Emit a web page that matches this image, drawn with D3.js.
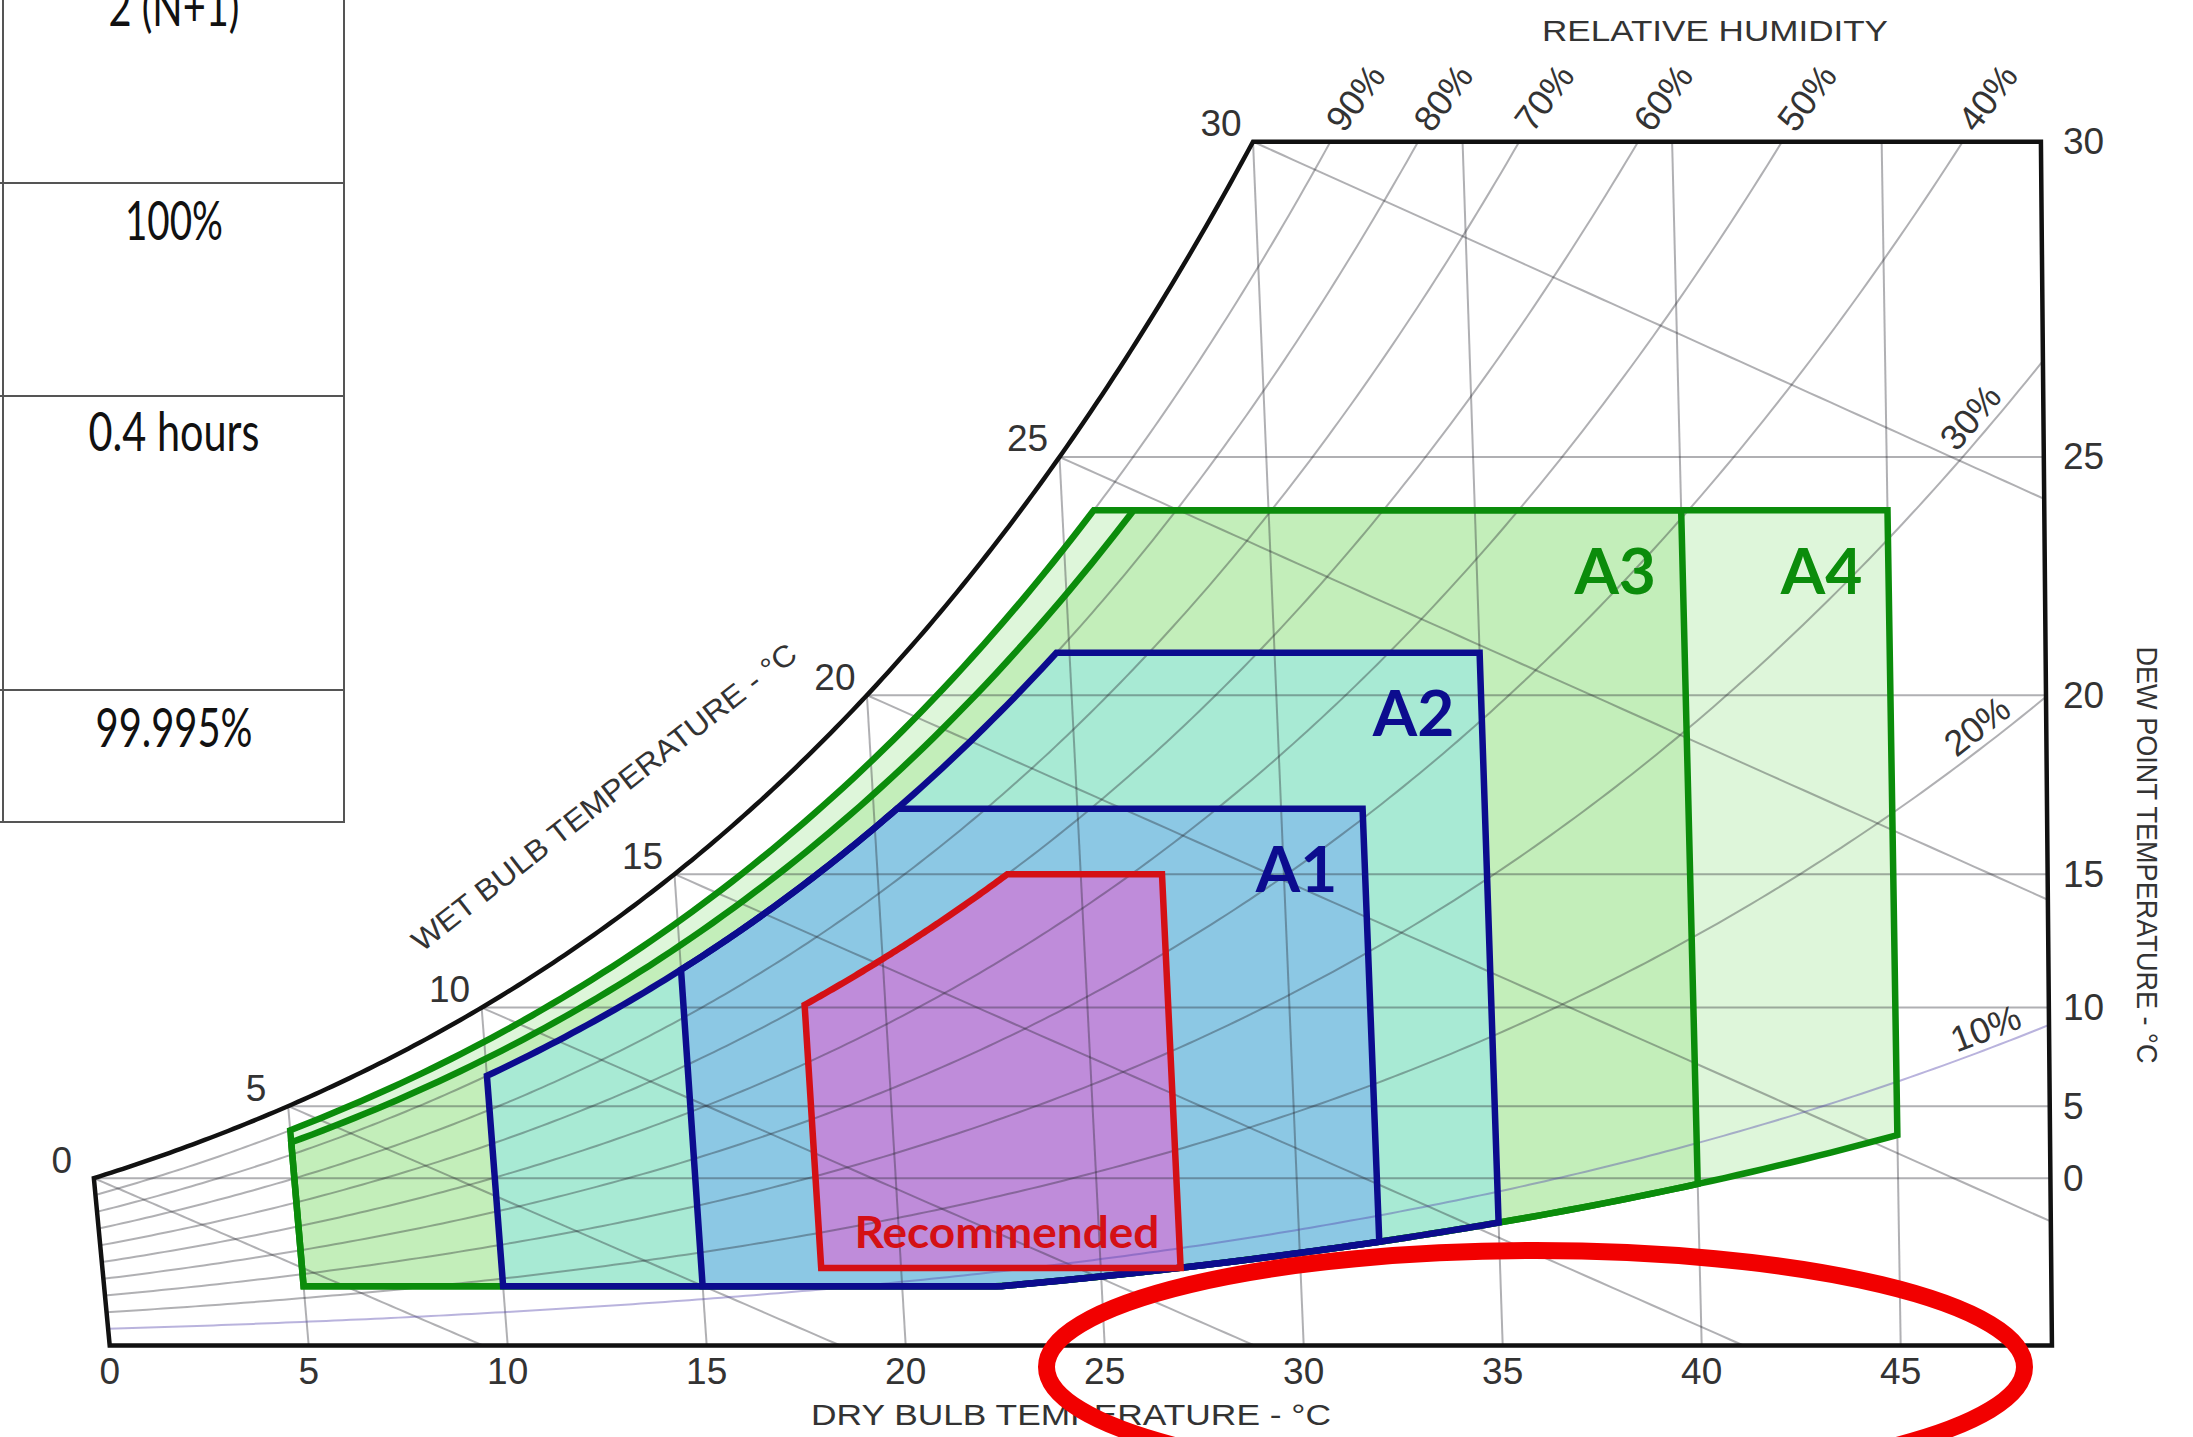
<!DOCTYPE html>
<html>
<head>
<meta charset="utf-8">
<script src="https://cdn.jsdelivr.net/npm/d3@7"></script>
<style>
  html, body { margin: 0; padding: 0; background: #ffffff; }
  svg { display: block; }
</style>
</head>
<body>
<svg id="chart" width="2193" height="1437"></svg>
<script>
// ---- axis ticks and grid families ----
const dryBulbTicks = [0, 5, 10, 15, 20, 25, 30, 35, 40, 45];
const dewPointTicks = [0, 5, 10, 15, 20, 25, 30];
const wetBulbTicks = [0, 5, 10, 15, 20, 25, 30];
const rhCurves = [10, 20, 30, 40, 50, 60, 70, 80, 90];
const rhTopLabels = [40, 50, 60, 70, 80, 90];
const rhSideLabels = [10, 20, 30];

// ---- chart frame limits (dry bulb / dew point, °C) ----
const dbFrameMax = 48.8;
const dpFrameTop = 30;

// ---- environmental classes ----
const classNames = ["A4", "A3", "A2", "A1", "Recommended"];
const classDbMin = [5, 5, 10, 15, 18];
const classDbMax = [45, 40, 35, 32, 27];
const classRhMax = [90, 85, 80, 80, 60];
const classDpMax = [24, 24, 21, 17, 15];
const classDpMin = [-12, -12, -12, -12, -9];
const classRhMin = [8, 8, 8, 8, 0];
const classFill = ["#def6da", "#c3eeba", "#a8ead4", "#8cc8e4", "#bf8cda"];
const classStroke = ["#0b8c0b", "#0b8c0b", "#0c0c8e", "#0c0c8e", "#d41015"];

// ---- side table column ----
const tableRows = ["2 (N+1)", "100%", "0.4 hours", "99.995%"];

// ---- psychrometrics (sea level) ----
const P_ATM = 101.325;
const psat = t => t >= 0
  ? 0.61094 * Math.exp(17.625 * t / (t + 243.04))
  : 0.61115 * Math.exp(22.452 * t / (272.55 + t));
const wFromPv = pv => 622 * pv / (P_ATM - pv);          // g/kg
const wSat = t => wFromPv(psat(t));
const wRh = (t, rh) => wFromPv(rh / 100 * psat(t));
const dbAtPv = pv => { const l = Math.log(pv / 0.61094); return 243.04 * l / (17.625 - l); };
const wWet = (t, twb) => {
  const ws = wSat(twb) / 1000;
  return 1000 * ((2501 - 2.326 * twb) * ws - 1.006 * (t - twb)) / (2501 + 1.86 * t - 4.186 * twb);
};

// ---- scales: dry bulb along the base, humidity ratio upward, lines lean with temperature ----
const wTop = wSat(dpFrameTop);
const xBase = d3.scaleLinear().domain([0, 45]).range([109.7, 1900.7]);
const yScale = d3.scaleLinear().domain([0, wTop]).range([1345.5, 141.7]);
const lean = d3.scaleLinear().domain([0, 45]).range([-4.198, -0.7015]);
const X = (t, w) => xBase(t) + w * lean(t);
const Y = w => yScale(w);
const line = d3.line().x(d => X(d[0], d[1])).y(d => Y(d[1]));
const steps = (a, b, n) => d3.range(n + 1).map(i => a + (b - a) * i / n);

const svg = d3.select("#chart");
const FONT = "'Liberation Sans', Arial, Helvetica, sans-serif";

// ---- class envelopes in (dry bulb, humidity ratio) ----
function envelope(i) {
  const tMin = classDbMin[i], tMax = classDbMax[i];
  const pvTop = psat(classDpMax[i]);
  const wCap = wFromPv(pvTop);
  const wFloor = wFromPv(psat(classDpMin[i]));
  const lower = t => Math.max(wFloor, classRhMin[i] > 0 ? wRh(t, classRhMin[i]) : 0);
  const tKnee = dbAtPv(pvTop / (classRhMax[i] / 100));
  const pts = [[tMin, lower(tMin)]];
  steps(tMin, tKnee, 80).forEach(t => pts.push([t, Math.min(wCap, wRh(t, classRhMax[i]))]));
  pts.push([tMax, wCap]);
  steps(tMax, tMin, 120).forEach(t => pts.push([t, lower(t)]));
  return pts;
}
const envelopes = classNames.map((_, i) => envelope(i));

// fills
const gFill = svg.append("g");
envelopes.forEach((pts, i) => {
  gFill.append("path").attr("d", line(pts) + "Z").attr("fill", classFill[i]).attr("stroke", "none");
});

// ---- grid ----
const gGrid = svg.append("g").attr("fill", "none")
  .attr("stroke", "rgba(35,35,45,0.36)").attr("stroke-width", 2);

// dry bulb lines
dryBulbTicks.filter(t => t > 0).forEach(t => {
  gGrid.append("path").attr("d", line([[t, 0], [t, Math.min(wSat(t), wTop)]]));
});
// dew point lines
dewPointTicks.filter(d => d < dpFrameTop).forEach(dp => {
  const w = wSat(dp);
  gGrid.append("path").attr("d", line([[dp, w], [dbFrameMax, w]]));
});
// wet bulb lines
wetBulbTicks.forEach(twb => {
  const ws = wSat(twb) / 1000;
  const tRoot = twb + (2501 - 2.326 * twb) * ws / 1.006;
  const tEnd = Math.min(tRoot, dbFrameMax);
  const pts = steps(twb, tEnd, 80).map(t => [t, Math.max(0, wWet(t, twb))]);
  gGrid.append("path").attr("d", line(pts));
});
// relative humidity curves
const rhEnd = rh => Math.min(dbFrameMax, dbAtPv(psat(dpFrameTop) / (rh / 100)));
rhCurves.forEach(rh => {
  const pts = steps(0, rhEnd(rh), 240).map(t => [t, Math.min(wTop, wRh(t, rh))]);
  const p = gGrid.append("path").attr("d", line(pts));
  if (rh === 10) p.attr("stroke", "rgba(80,64,170,0.40)");
});

// ---- frame: saturation curve, top, right, base, left ----
const framePts = steps(0, dpFrameTop, 200).map(t => [t, wSat(t)])
  .concat([[dbFrameMax, wTop], [dbFrameMax, 0], [0, 0]]);
svg.append("path").attr("d", line(framePts) + "Z")
  .attr("fill", "none").attr("stroke", "#111").attr("stroke-width", 4.5)
  .attr("stroke-linejoin", "miter");

// ---- class outlines ----
const gEnv = svg.append("g").attr("fill", "none").attr("stroke-width", 6.5).attr("stroke-linejoin", "miter");
envelopes.forEach((pts, i) => {
  gEnv.append("path").attr("d", line(pts) + "Z").attr("stroke", classStroke[i]);
});

// ---- class labels ----
const gLab = svg.append("g").attr("font-family", "Lato, 'Open Sans', sans-serif").attr("font-weight", 700);
classNames.forEach((name, i) => {
  const wCap = wSat(classDpMax[i]);
  if (name === "Recommended") {
    const wFloor = wFromPv(psat(classDpMin[i]));
    const cx = (X(classDbMin[i], wFloor) + X(classDbMax[i], wFloor)) / 2;
    gLab.append("text").attr("x", cx + 6).attr("y", Y(wFloor) - 37)
      .attr("text-anchor", "middle").attr("dominant-baseline", "central")
      .attr("font-size", 44).attr("textLength", 305).attr("lengthAdjust", "spacingAndGlyphs")
      .attr("fill", classStroke[i]).text(name);
  } else {
    gLab.append("text").attr("x", X(classDbMax[i], wCap) - 66).attr("y", Y(wCap) + 59)
      .attr("text-anchor", "middle").attr("dominant-baseline", "central")
      .attr("font-size", 64).attr("fill", classStroke[i]).text(name);
  }
});

// ---- axis text ----
const gTxt = svg.append("g").attr("font-family", FONT).attr("fill", "#333");

// dry bulb ticks
dryBulbTicks.forEach(t => {
  gTxt.append("text").attr("x", X(t, 0)).attr("y", 1371)
    .attr("text-anchor", "middle").attr("dominant-baseline", "central")
    .attr("font-size", 37).text(t);
});
// dew point ticks (right)
dewPointTicks.forEach(dp => {
  gTxt.append("text").attr("x", 2063).attr("y", Y(wSat(dp)))
    .attr("dominant-baseline", "central").attr("font-size", 37).text(dp);
});
// wet bulb ticks along the saturation curve
wetBulbTicks.forEach(twb => {
  const w = wSat(twb);
  gTxt.append("text").attr("x", X(twb, w) - 32).attr("y", Y(w) - 18)
    .attr("text-anchor", "middle").attr("dominant-baseline", "central")
    .attr("font-size", 37).text(twb);
});
// relative humidity labels along the top
rhTopLabels.forEach(rh => {
  const cx = X(rhEnd(rh), wTop) + 25, cy = Y(wTop) - 44;
  gTxt.append("text").attr("transform", `translate(${cx},${cy}) rotate(-53)`)
    .attr("text-anchor", "middle").attr("dominant-baseline", "central")
    .attr("font-size", 36).text(rh + "%");
});
// relative humidity labels near the right edge
rhSideLabels.forEach(rh => {
  const ta = 47.0, tb = 47.8;
  const xa = X(ta, wRh(ta, rh)), ya = Y(wRh(ta, rh));
  const xb = X(tb, wRh(tb, rh)), yb = Y(wRh(tb, rh));
  const a = Math.atan2(yb - ya, xb - xa);
  const cx = (xa + xb) / 2 + 20 * Math.sin(a), cy = (ya + yb) / 2 - 20 * Math.cos(a);
  gTxt.append("text").attr("transform", `translate(${cx},${cy}) rotate(${a * 180 / Math.PI})`)
    .attr("text-anchor", "middle").attr("dominant-baseline", "central")
    .attr("font-size", 36).text(rh + "%");
});

// axis titles
gTxt.append("text").attr("x", 1715).attr("y", 31)
  .attr("text-anchor", "middle").attr("dominant-baseline", "central")
  .attr("font-size", 29).attr("textLength", 346).attr("lengthAdjust", "spacingAndGlyphs")
  .text("RELATIVE HUMIDITY");
gTxt.append("text").attr("x", 1071).attr("y", 1415)
  .attr("text-anchor", "middle").attr("dominant-baseline", "central")
  .attr("font-size", 29).attr("textLength", 520).attr("lengthAdjust", "spacingAndGlyphs")
  .text("DRY BULB TEMPERATURE - °C");
gTxt.append("text").attr("transform", "translate(2147,855) rotate(90)")
  .attr("text-anchor", "middle").attr("dominant-baseline", "central")
  .attr("font-size", 29).attr("textLength", 417).attr("lengthAdjust", "spacingAndGlyphs")
  .text("DEW POINT TEMPERATURE - °C");
gTxt.append("text").attr("transform", "translate(604,797) rotate(-38)")
  .attr("text-anchor", "middle").attr("dominant-baseline", "central")
  .attr("font-size", 30).attr("textLength", 479).attr("lengthAdjust", "spacingAndGlyphs")
  .text("WET BULB TEMPERATURE - °C");

// ---- highlight ring ----
svg.append("ellipse").attr("cx", 1535.5).attr("cy", 1367).attr("rx", 489).attr("ry", 116.5)
  .attr("fill", "none").attr("stroke", "#f20000").attr("stroke-width", 17);

// ---- side table column ----
const rowLines = [183, 396, 690, 822];
const rowBaselines = [26, 240, 451, 747];
const rowWidths = [131, 98, 171, 157];
const gTab = svg.append("g");
gTab.append("line").attr("x1", 344).attr("x2", 344).attr("y1", 0).attr("y2", 823)
  .attr("stroke", "#555").attr("stroke-width", 2);
gTab.append("line").attr("x1", 3).attr("x2", 3).attr("y1", 0).attr("y2", 823)
  .attr("stroke", "#555").attr("stroke-width", 2);
rowLines.forEach(yy => {
  gTab.append("line").attr("x1", 0).attr("x2", 345).attr("y1", yy).attr("y2", yy)
    .attr("stroke", "#555").attr("stroke-width", 2);
});
tableRows.forEach((txt, i) => {
  gTab.append("text").attr("x", 174).attr("y", rowBaselines[i])
    .attr("text-anchor", "middle").attr("font-family", "Lato, 'Open Sans', sans-serif")
    .attr("font-size", 54).attr("fill", "#111")
    .attr("textLength", rowWidths[i]).attr("lengthAdjust", "spacingAndGlyphs")
    .text(txt);
});
</script>
</body>
</html>
